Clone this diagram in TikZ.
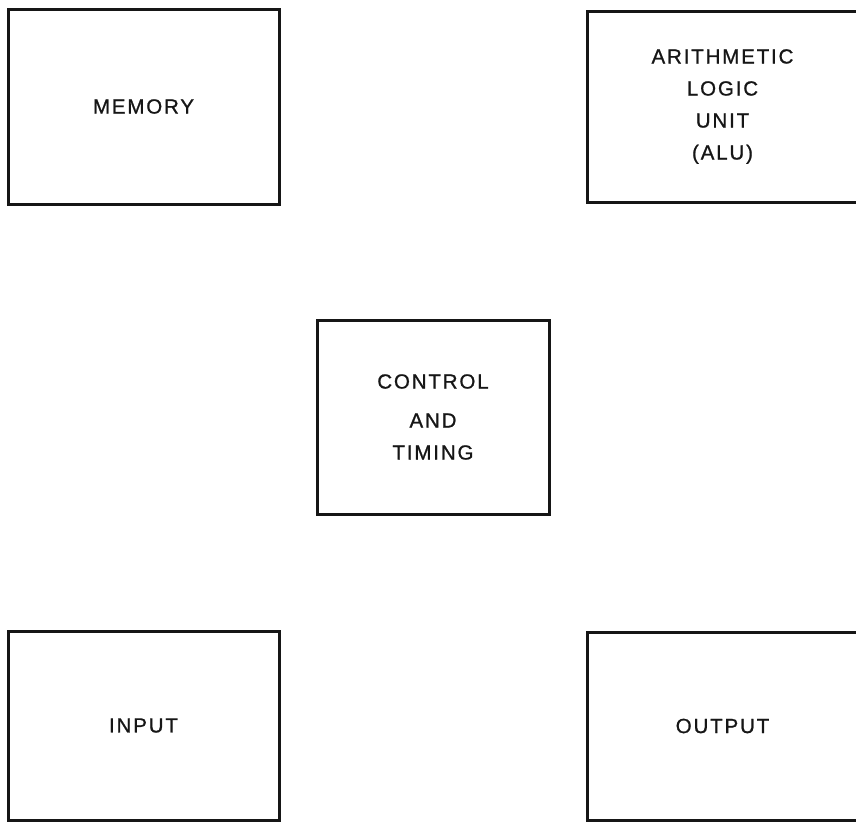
\documentclass[tikz,border=0pt]{standalone}
\usepackage{fontspec}
\setmainfont{Liberation Sans}[LetterSpace=9, FakeBold=1]
\definecolor{ink}{HTML}{161616}
\begin{document}
\begin{tikzpicture}[x=1pt, y=-1pt,
  unitbox/.style={draw=ink, line width=3pt, rectangle, inner sep=0pt,
    align=center, text=ink, font=\fontsize{20.5}{32}\selectfont}]
  \useasboundingbox (0,0) rectangle (856,822);
  \node[unitbox, minimum width=271pt, minimum height=195pt] (mem) at (143.5,106.5) {MEMORY};
  \node[unitbox, minimum width=271pt, minimum height=191pt] (alu) at (722.5,106.5)
    {ARITHMETIC\\LOGIC\\UNIT\\(ALU)};
  \node[unitbox, minimum width=232pt, minimum height=194pt] (ctl) at (433,417)
    {CONTROL\\[7pt]AND\\TIMING};
  \node[unitbox, minimum width=271pt, minimum height=189pt] (inp) at (143.5,725.5) {INPUT};
  \node[unitbox, minimum width=271pt, minimum height=188pt] (out) at (722.5,726) {OUTPUT};
\end{tikzpicture}
\end{document}
